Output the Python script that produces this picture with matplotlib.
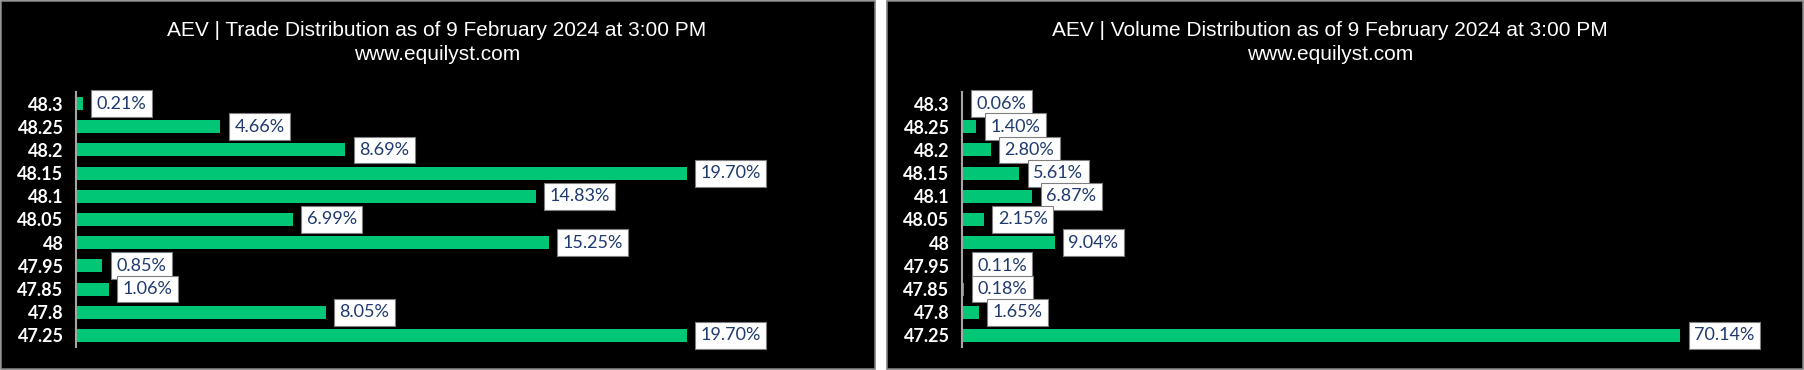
import matplotlib
matplotlib.use('Agg')
from matplotlib import pyplot as plt
from matplotlib.patches import Rectangle

# Chart data (top to bottom)
prices = ['48.3', '48.25', '48.2', '48.15', '48.1', '48.05', '48', '47.95', '47.85', '47.8', '47.25']
trade_pct = [0.21, 4.66, 8.69, 19.70, 14.83, 6.99, 15.25, 0.85, 1.06, 8.05, 19.70]
volume_pct = [0.06, 1.40, 2.80, 5.61, 6.87, 2.15, 9.04, 0.11, 0.18, 1.65, 70.14]
titles = ['AEV | Trade Distribution as of 9 February 2024 at 3:00 PM',
          'AEV | Volume Distribution as of 9 February 2024 at 3:00 PM']
subtitle = 'www.equilyst.com'

W, H = 1804, 370
green = '#00C676'
navy = '#1F3A6E'

fig = plt.figure(figsize=(W / 100, H / 100), dpi=100)
fig.patch.set_facecolor('white')

# black panels with grey frame
for x0, x1 in [(1, 875), (887, 1803)]:
    fig.patches.append(Rectangle((x0 / W, 1 / H), (x1 - x0) / W, (H - 2) / H,
                                 transform=fig.transFigure, facecolor='black',
                                 edgecolor='#7F7F7F', linewidth=1.2, zorder=-5))

# axes placement in pixels: left, right, top, bottom
panels = [
    dict(vals=trade_pct, title=titles[0], l=76, r=820, xmax=24, cx=437),
    dict(vals=volume_pct, title=titles[1], l=962, r=1781, xmax=80, cx=1330),
]
top, bot = 92, 347

for p in panels:
    ax = fig.add_axes([p['l'] / W, 1 - bot / H, (p['r'] - p['l']) / W, (bot - top) / H])
    ax.set_facecolor('none')
    y = list(range(len(prices)))
    ax.barh(y, p['vals'], height=0.56, color=green, zorder=2)
    ax.set_ylim(len(prices) - 0.5, -0.5)
    ax.set_xlim(0, p['xmax'])
    ax.set_yticks(y)
    ax.set_yticklabels(prices, color='white', fontsize=13, fontweight='bold', family='Lato')
    ax.tick_params(axis='y', length=0, pad=9)
    ax.set_xticks([])
    for s in ['top', 'right', 'bottom']:
        ax.spines[s].set_visible(False)
    ax.spines['left'].set_color('#A6A6A6')
    ax.spines['left'].set_linewidth(1.5)
    for i, v in enumerate(p['vals']):
        ax.annotate('{:.2f}%'.format(v), xy=(v, i), xytext=(10, 0), textcoords='offset points',
                    va='center', ha='left', fontsize=13, color=navy, family='Lato',
                    bbox=dict(boxstyle='square,pad=0.3', facecolor='white', edgecolor='#7F7F7F',
                              linewidth=0.8), zorder=3, annotation_clip=False)
    fig.text(p['cx'] / W, 1 - 30 / H, p['title'], ha='center', va='center', color='white',
             fontsize=15, family='Liberation Sans')
    fig.text(p['cx'] / W, 1 - 55 / H, subtitle, ha='center', va='center', color='white',
             fontsize=15, family='Liberation Sans')

fig.savefig('out.png', dpi=100, facecolor=fig.get_facecolor())
